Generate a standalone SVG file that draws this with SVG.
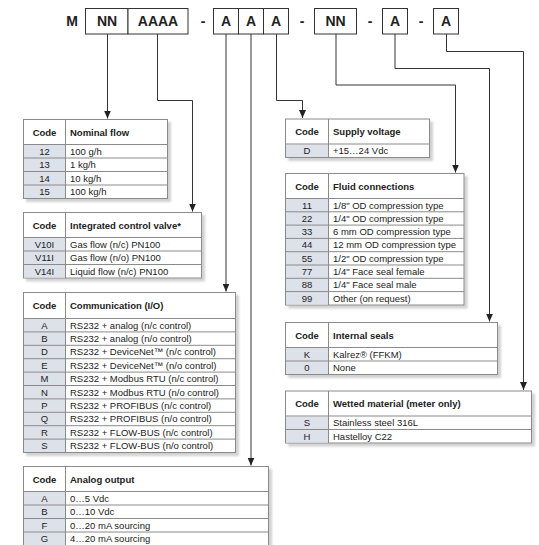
<svg xmlns="http://www.w3.org/2000/svg" width="539" height="545" viewBox="0 0 539 545">
<style>
.bx{fill:#fff;stroke:#333;stroke-width:1}
.hd{font-family:"Liberation Sans",Arial,sans-serif;font-weight:bold;font-size:14px;fill:#222;text-anchor:middle}
.tb{fill:#fff;stroke:#8a8a8a;stroke-width:1;filter:url(#sh)}
.cb{fill:#dde1ea}
.ln{stroke:#8a8a8a;stroke-width:1;fill:none}
.th{font-family:"Liberation Sans",Arial,sans-serif;font-weight:bold;font-size:9.5px;fill:#222}
.td{font-family:"Liberation Sans",Arial,sans-serif;font-size:9.5px;fill:#222}
.c{text-anchor:middle}
.cn{stroke:#333;stroke-width:1;fill:none;marker-end:url(#ar)}
</style>
<defs>
<filter id="sh" x="-5%" y="-5%" width="115%" height="120%">
<feDropShadow dx="3" dy="3" stdDeviation="1.2" flood-color="#000" flood-opacity="0.18"/>
</filter>
<marker id="ar" markerUnits="userSpaceOnUse" markerWidth="9" markerHeight="8" refX="8" refY="3.5" orient="auto">
<path d="M0,0 L8,3.5 L0,7 z" fill="#222"/>
</marker>
</defs>
<rect width="539" height="545" fill="#fff"/>

<g id="code-header">
<text class="hd" x="72" y="26">M</text>
<rect class="bx" x="85.5" y="8.5" width="42.5" height="25.5"/>
<text class="hd" x="107" y="26">NN</text>
<rect class="bx" x="128" y="8.5" width="60" height="25.5"/>
<text class="hd" x="158" y="26">AAAA</text>
<text class="hd" x="203" y="26">-</text>
<rect class="bx" x="213.5" y="8.5" width="25" height="25.5"/>
<text class="hd" x="226" y="26">A</text>
<rect class="bx" x="238.5" y="8.5" width="25" height="25.5"/>
<text class="hd" x="251" y="26">A</text>
<rect class="bx" x="263.5" y="8.5" width="25" height="25.5"/>
<text class="hd" x="276" y="26">A</text>
<text class="hd" x="302" y="26">-</text>
<rect class="bx" x="314.5" y="8.5" width="42" height="25.5"/>
<text class="hd" x="335.5" y="26">NN</text>
<text class="hd" x="370" y="26">-</text>
<rect class="bx" x="382.5" y="8.5" width="25" height="25.5"/>
<text class="hd" x="395" y="26">A</text>
<text class="hd" x="421" y="26">-</text>
<rect class="bx" x="433.5" y="8.5" width="25" height="25.5"/>
<text class="hd" x="446" y="26">A</text>
</g>

<g id="connectors">
<path class="cn" d="M107.5 34 V118.5"/>
<path class="cn" d="M157.5 34 V100.5 H192.5 V211.5"/>
<path class="cn" d="M226 34 V291.5"/>
<path class="cn" d="M251 34 V465.5"/>
<path class="cn" d="M276.5 34 V100.5 H302.5 V118"/>
<path class="cn" d="M336 34 V85 H455.5 V172.5"/>
<path class="cn" d="M395 34 V68.5 H489.5 V321.5"/>
<path class="cn" d="M446.5 34 V51.5 H523.5 V390"/>
</g>

<g id="nominal-flow">
<rect class="tb" x="23.5" y="119.5" width="144" height="79"/>
<rect class="cb" x="24" y="145" width="41.5" height="53"/>
<path class="ln" d="M23.5 144.5 H167.5 M23.5 158 H167.5 M23.5 171.5 H167.5 M23.5 185 H167.5 M65.5 119.5 V198.5"/>
<text class="th c" x="44.5" y="135.5">Code</text>
<text class="th" x="70" y="135.5">Nominal flow</text>
<text class="td c" x="44.5" y="154.5">12</text><text class="td" x="70" y="154.5">100 g/h</text>
<text class="td c" x="44.5" y="168">13</text><text class="td" x="70" y="168">1 kg/h</text>
<text class="td c" x="44.5" y="181.5">14</text><text class="td" x="70" y="181.5">10 kg/h</text>
<text class="td c" x="44.5" y="195">15</text><text class="td" x="70" y="195">100 kg/h</text>
</g>

<g id="control-valve">
<rect class="tb" x="23.5" y="212.5" width="178" height="65.5"/>
<rect class="cb" x="24" y="238" width="41.5" height="39.5"/>
<path class="ln" d="M23.5 237.5 H201.5 M23.5 251 H201.5 M23.5 264.5 H201.5 M65.5 212.5 V278"/>
<text class="th c" x="44.5" y="228.5">Code</text>
<text class="th" x="70" y="228.5">Integrated control valve*</text>
<text class="td c" x="44.5" y="247.5">V10I</text><text class="td" x="70" y="247.5">Gas flow (n/c) PN100</text>
<text class="td c" x="44.5" y="261">V11I</text><text class="td" x="70" y="261">Gas flow (n/o) PN100</text>
<text class="td c" x="44.5" y="274.5">V14I</text><text class="td" x="70" y="274.5">Liquid flow (n/c) PN100</text>
</g>

<g id="communication">
<rect class="tb" x="23.5" y="292.5" width="212" height="160"/>
<rect class="cb" x="24" y="319" width="41.5" height="133"/>
<path class="ln" d="M23.5 318.5 H235.5 M23.5 331.9 H235.5 M23.5 345.3 H235.5 M23.5 358.7 H235.5 M23.5 372.1 H235.5 M23.5 385.5 H235.5 M23.5 398.9 H235.5 M23.5 412.3 H235.5 M23.5 425.7 H235.5 M23.5 439.1 H235.5 M65.5 292.5 V452.5"/>
<text class="th c" x="44.5" y="309">Code</text>
<text class="th" x="70" y="309">Communication (I/O)</text>
<text class="td c" x="44.5" y="328.5">A</text><text class="td" x="70" y="328.5">RS232 + analog (n/c control)</text>
<text class="td c" x="44.5" y="341.9">B</text><text class="td" x="70" y="341.9">RS232 + analog (n/o control)</text>
<text class="td c" x="44.5" y="355.3">D</text><text class="td" x="70" y="355.3">RS232 + DeviceNet™ (n/c control)</text>
<text class="td c" x="44.5" y="368.7">E</text><text class="td" x="70" y="368.7">RS232 + DeviceNet™ (n/o control)</text>
<text class="td c" x="44.5" y="382.1">M</text><text class="td" x="70" y="382.1">RS232 + Modbus RTU (n/c control)</text>
<text class="td c" x="44.5" y="395.5">N</text><text class="td" x="70" y="395.5">RS232 + Modbus RTU (n/o control)</text>
<text class="td c" x="44.5" y="408.9">P</text><text class="td" x="70" y="408.9">RS232 + PROFIBUS (n/c control)</text>
<text class="td c" x="44.5" y="422.3">Q</text><text class="td" x="70" y="422.3">RS232 + PROFIBUS (n/o control)</text>
<text class="td c" x="44.5" y="435.7">R</text><text class="td" x="70" y="435.7">RS232 + FLOW-BUS (n/c control)</text>
<text class="td c" x="44.5" y="449.1">S</text><text class="td" x="70" y="449.1">RS232 + FLOW-BUS (n/o control)</text>
</g>

<g id="analog-output">
<rect class="tb" x="23.5" y="466.5" width="245" height="79"/>
<rect class="cb" x="24" y="492" width="41.5" height="53"/>
<path class="ln" d="M23.5 491.5 H268.5 M23.5 505 H268.5 M23.5 518.5 H268.5 M23.5 532 H268.5 M65.5 466.5 V545.5"/>
<text class="th c" x="44.5" y="482.5">Code</text>
<text class="th" x="70" y="482.5">Analog output</text>
<text class="td c" x="44.5" y="501.5">A</text><text class="td" x="70" y="501.5">0…5 Vdc</text>
<text class="td c" x="44.5" y="515">B</text><text class="td" x="70" y="515">0…10 Vdc</text>
<text class="td c" x="44.5" y="528.5">F</text><text class="td" x="70" y="528.5">0…20 mA sourcing</text>
<text class="td c" x="44.5" y="542">G</text><text class="td" x="70" y="542">4…20 mA sourcing</text>
</g>

<g id="supply-voltage">
<rect class="tb" x="285.5" y="119" width="144" height="38.5"/>
<rect class="cb" x="286" y="144.5" width="42.5" height="12.5"/>
<path class="ln" d="M285.5 144 H429.5 M328.5 119 V157.5"/>
<text class="th c" x="307" y="135">Code</text>
<text class="th" x="333" y="135">Supply voltage</text>
<text class="td c" x="307" y="154">D</text><text class="td" x="333" y="154">+15…24 Vdc</text>
</g>

<g id="fluid-connections">
<rect class="tb" x="285.5" y="173.5" width="178.5" height="131.5"/>
<rect class="cb" x="286" y="199" width="42.5" height="105.5"/>
<path class="ln" d="M285.5 198.5 H464 M285.5 211.8 H464 M285.5 225.1 H464 M285.5 238.4 H464 M285.5 251.7 H464 M285.5 265 H464 M285.5 278.3 H464 M285.5 291.6 H464 M328.5 173.5 V305"/>
<text class="th c" x="307" y="189.5">Code</text>
<text class="th" x="333" y="189.5">Fluid connections</text>
<text class="td c" x="307" y="208.5">11</text><text class="td" x="333" y="208.5">1/8" OD compression type</text>
<text class="td c" x="307" y="221.8">22</text><text class="td" x="333" y="221.8">1/4" OD compression type</text>
<text class="td c" x="307" y="235.1">33</text><text class="td" x="333" y="235.1">6 mm OD compression type</text>
<text class="td c" x="307" y="248.4">44</text><text class="td" x="333" y="248.4">12 mm OD compression type</text>
<text class="td c" x="307" y="261.7">55</text><text class="td" x="333" y="261.7">1/2" OD compression type</text>
<text class="td c" x="307" y="275">77</text><text class="td" x="333" y="275">1/4" Face seal female</text>
<text class="td c" x="307" y="288.3">88</text><text class="td" x="333" y="288.3">1/4" Face seal male</text>
<text class="td c" x="307" y="301.6">99</text><text class="td" x="333" y="301.6">Other (on request)</text>
</g>

<g id="internal-seals">
<rect class="tb" x="285.5" y="322.5" width="212" height="52"/>
<rect class="cb" x="286" y="348" width="42.5" height="26"/>
<path class="ln" d="M285.5 347.5 H497.5 M285.5 361 H497.5 M328.5 322.5 V374.5"/>
<text class="th c" x="307" y="338.5">Code</text>
<text class="th" x="333" y="338.5">Internal seals</text>
<text class="td c" x="307" y="357.5">K</text><text class="td" x="333" y="357.5">Kalrez® (FFKM)</text>
<text class="td c" x="307" y="371">0</text><text class="td" x="333" y="371">None</text>
</g>

<g id="wetted-material">
<rect class="tb" x="285.5" y="391" width="246" height="52"/>
<rect class="cb" x="286" y="416.5" width="42.5" height="26"/>
<path class="ln" d="M285.5 416 H531.5 M285.5 429.5 H531.5 M328.5 391 V443"/>
<text class="th c" x="307" y="407">Code</text>
<text class="th" x="333" y="407">Wetted material (meter only)</text>
<text class="td c" x="307" y="426">S</text><text class="td" x="333" y="426">Stainless steel 316L</text>
<text class="td c" x="307" y="439.5">H</text><text class="td" x="333" y="439.5">Hastelloy C22</text>
</g>
</svg>
